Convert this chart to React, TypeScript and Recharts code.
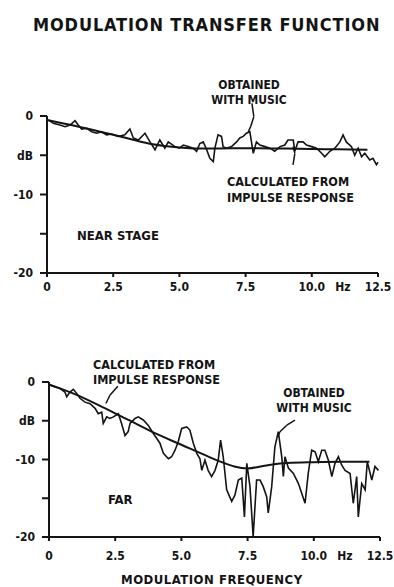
import React from "react";
import { LineChart, Line, XAxis, YAxis, ReferenceLine } from "recharts";

// x ticks (Hz) and y ticks (dB)
const freqTicks = [0, 2.5, 5, 7.5, 10, 12.5];
const dbTicks = [0, -5, -10, -15, -20];

// near stage: calculated from impulse response
const nearCalcHz = [0, 1, 2, 3, 4, 5, 6, 7, 8, 9, 10, 11, 12.1];
const nearCalcDb = [-0.5, -1.2, -2.0, -2.8, -3.6, -4.0, -4.15, -4.1, -4.1, -4.15, -4.2, -4.25, -4.3];

// near stage: obtained with music
const nearMusicHz = [
  0.05, 0.24, 0.49, 0.68, 0.87, 1.06, 1.18, 1.31, 1.5, 1.69, 1.88, 2.06, 2.25, 2.44,
  2.69, 2.94, 3.13, 3.26, 3.45, 3.7, 3.89, 4.08, 4.26, 4.45, 4.58, 4.83, 5.0, 5.15,
  5.33, 5.52, 5.65, 5.77, 5.9, 6.03, 6.15, 6.28, 6.34, 6.46, 6.59, 6.65, 6.78, 6.97,
  7.16, 7.28, 7.41, 7.53, 7.66, 7.79, 7.91, 8.04, 8.23, 8.42, 8.6, 8.8, 8.98, 9.1,
  9.3, 9.36, 9.48, 9.67, 9.8, 9.99, 10.18, 10.37, 10.49, 10.68, 10.87, 11.06, 11.18,
  11.3, 11.5, 11.62, 11.75, 11.88, 12.0, 12.19, 12.31, 12.44, 12.5,
];
const nearMusicDb = [
  -0.5, -0.93, -1.15, -1.36, -1.15, -0.6, -1.15, -1.66, -1.57, -2.0, -2.2, -2.0, -2.4, -2.3,
  -2.6, -2.4, -1.66, -2.8, -3.06, -2.2, -3.3, -4.3, -3.06, -4.1, -3.3, -3.9, -4.1, -3.7,
  -3.9, -4.1, -4.5, -3.5, -3.3, -4.3, -5.4, -5.8, -4.1, -2.4, -2.6, -3.9, -4.1, -3.9,
  -3.3, -2.8, -2.6, -2.2, -2.0, -4.75, -3.3, -3.7, -3.9, -4.1, -4.5, -3.9, -3.7, -3.06,
  -3.06, -4.5, -3.3, -3.3, -3.7, -3.9, -4.1, -4.75, -5.2, -4.5, -4.1, -3.3, -2.4,
  -3.3, -3.9, -5.0, -4.1, -5.2, -4.75, -5.6, -5.4, -6.2, -5.9,
];

// far: calculated from impulse response
const farCalcHz = [0, 1, 2, 3, 4, 5, 6, 6.5, 7, 7.5, 8, 8.5, 9, 10, 11, 12.1];
const farCalcDb = [-0.3, -1.6, -3.2, -4.9, -6.6, -8.1, -9.6, -10.3, -10.9, -11.15, -10.9, -10.6, -10.45, -10.35, -10.3, -10.3];

// far: obtained with music
const farMusicHz = [
  0.04, 0.23, 0.42, 0.6, 0.67, 0.79, 0.92, 1.05, 1.17, 1.36, 1.55, 1.74, 1.86, 1.99,
  2.05, 2.18, 2.3, 2.43, 2.62, 2.74, 2.87, 2.99, 3.06, 3.25, 3.37, 3.56, 3.75, 3.94,
  4.07, 4.19, 4.32, 4.51, 4.63, 4.76, 4.88, 5.01, 5.2, 5.32, 5.45, 5.58, 5.7, 5.77,
  5.89, 6.01, 6.14, 6.27, 6.39, 6.48, 6.58, 6.71, 6.9, 7.02, 7.15, 7.28, 7.38, 7.47,
  7.59, 7.71, 7.84, 7.97, 8.09, 8.22, 8.28, 8.41, 8.53, 8.66, 8.79, 8.85, 8.91, 9.04,
  9.23, 9.42, 9.67, 9.79, 9.92, 10.05, 10.17, 10.3, 10.42, 10.55, 10.68, 10.8, 10.93,
  11.05, 11.18, 11.37, 11.49, 11.62, 11.68, 11.81, 11.94, 12.02, 12.19, 12.31, 12.44,
];
const farMusicDb = [
  -0.42, -0.64, -0.85, -1.29, -1.9, -1.29, -0.94, -1.5, -2.1, -2.6, -2.8, -3.4, -4.1, -3.9,
  -5.35, -4.5, -4.7, -4.5, -4.1, -5.35, -6.9, -6.4, -5.35, -4.7, -4.5, -4.9, -5.6, -6.65,
  -7.3, -7.9, -9.2, -9.9, -9.65, -8.8, -7.7, -6.0, -5.8, -6.2, -7.9, -9.2, -9.9, -11.4,
  -10.1, -11.4, -12.2, -11.4, -10.1, -7.5, -9.65, -13.9, -15.4, -14.6, -12.65, -12.4, -17.4, -10.5,
  -13.5, -19.95, -12.65, -12.65, -13.5, -14.8, -16.9, -13.5, -8.4, -6.4, -9.65, -12.2, -9.65, -11.1,
  -11.8, -13.1, -15.65, -11.8, -8.8, -9.0, -10.3, -8.8, -8.8, -10.1, -12.2, -10.5, -9.65,
  -10.7, -11.4, -11.8, -15.65, -12.2, -17.4, -13.1, -13.9, -10.3, -12.65, -10.9, -11.4,
];

// annotation leader lines, in chart units
const nearMusicLeader = [[7.74, 1.62], [7.81, -0.09], [7.69, -1.36], [7.6, -2.0]];
const nearCalcLeader = [[9.29, -6.24], [9.36, -4.75], [9.29, -3.9]];
const farCalcLeader = [[2.6, -0.55], [2.3, -1.71], [2.15, -2.78]];
const farMusicLeader = [[9.29, -4.93], [8.98, -5.57], [8.72, -6.43], [8.66, -6.86]];

const pts = (hz: number[], db: number[]) => hz.map((x, i) => ({ x, y: db[i] }));

const INK = "#141414";
const FONT = "'DejaVu Sans Condensed', 'DejaVu Sans', sans-serif";

const yLabel = (v: number) => (v === 0 ? "0" : v === -5 ? "dB" : v === -15 ? "" : String(v));

function FreqTick(props: any) {
  const { x, y, payload } = props;
  const v = payload.value as number;
  const label = v === 0 ? "0" : v.toFixed(1);
  return (
    <g>
      <text x={x} y={y} dy="0.71em" textAnchor="middle" fill={INK} fontSize={12} fontFamily={FONT} fontWeight="bold">
        {label}
      </text>
      {v === 10 && (
        <text x={x + 31} y={y} dy="0.71em" textAnchor="middle" fill={INK} fontSize={12} fontFamily={FONT} fontWeight="bold">
          Hz
        </text>
      )}
    </g>
  );
}

function Leader({ path }: { path: number[][] }) {
  return (
    <>
      {path.slice(1).map((p, i) => (
        <ReferenceLine
          key={i}
          segment={[{ x: path[i][0], y: path[i][1] }, { x: p[0], y: p[1] }]}
          stroke={INK}
          strokeWidth={1.5}
          ifOverflow="visible"
        />
      ))}
    </>
  );
}

function Panel({ calc, music, leaders, margin, height, tickGap }: any) {
  return (
    <LineChart width={394} height={height} margin={margin}>
      <XAxis
        type="number"
        dataKey="x"
        domain={[0, 12.5]}
        ticks={freqTicks}
        tick={(p: any) => <FreqTick {...p} />}
        stroke={INK}
        strokeWidth={2}
        tickSize={4}
        tickMargin={tickGap}
        height={28}
        interval={0}
      />
      <YAxis
        type="number"
        domain={[-20, 0]}
        ticks={dbTicks}
        tickFormatter={yLabel}
        tick={{ fill: INK, fontSize: 12, fontFamily: FONT, fontWeight: "bold" }}
        stroke={INK}
        strokeWidth={2}
        tickSize={7}
        tickMargin={7}
        width={40}
        interval={0}
      />
      <Line data={calc} dataKey="y" type="monotone" stroke={INK} strokeWidth={2} dot={false} isAnimationActive={false} />
      <Line data={music} dataKey="y" type="linear" stroke={INK} strokeWidth={1.6} dot={false} isAnimationActive={false} />
      {leaders.map((l: number[][], i: number) => (
        <Leader key={i} path={l} />
      ))}
    </LineChart>
  );
}

const txt = (left: number, top: number, size: number, extra: any = {}) =>
  ({
    position: "absolute",
    left,
    top,
    fontFamily: FONT,
    fontWeight: "bold",
    fontSize: size,
    lineHeight: 1,
    color: INK,
    whiteSpace: "nowrap",
    ...extra,
  }) as React.CSSProperties;

export default function App() {
  return (
    <div style={{ position: "absolute", left: 0, top: 0, width: 394, height: 587, background: "#fff", overflow: "hidden" }}>
      <div style={txt(33, 16, 18, { letterSpacing: 0.85 })}>MODULATION TRANSFER FUNCTION</div>

      <div style={{ position: "absolute", left: 0, top: 60 }}>
        <Panel
          calc={pts(nearCalcHz, nearCalcDb)}
          music={pts(nearMusicHz, nearMusicDb)}
          leaders={[nearMusicLeader, nearCalcLeader]}
          height={240}
          tickGap={5}
          margin={{ top: 56, right: 16, left: 7, bottom: -1 }}
        />
      </div>
      <div style={txt(205, 78, 12, { textAlign: "center", width: 88, lineHeight: "15px" })}>
        OBTAINED
        <br />
        WITH MUSIC
      </div>
      <div style={txt(227, 174, 12.5, { lineHeight: "16px" })}>
        CALCULATED FROM
        <br />
        IMPULSE RESPONSE
      </div>
      <div style={txt(77, 229, 13)}>NEAR STAGE</div>

      <div style={{ position: "absolute", left: 0, top: 330 }}>
        <Panel
          calc={pts(farCalcHz, farCalcDb)}
          music={pts(farMusicHz, farMusicDb)}
          leaders={[farCalcLeader, farMusicLeader]}
          height={240}
          tickGap={10}
          margin={{ top: 52, right: 14, left: 9, bottom: 5 }}
        />
      </div>
      <div style={txt(93, 357, 12.5, { lineHeight: "15px" })}>
        CALCULATED FROM
        <br />
        IMPULSE RESPONSE
      </div>
      <div style={txt(270, 386, 12, { textAlign: "center", width: 88, lineHeight: "15px" })}>
        OBTAINED
        <br />
        WITH MUSIC
      </div>
      <div style={txt(108, 493, 13)}>FAR</div>
      <div style={txt(121, 573, 13, { letterSpacing: 0.5 })}>MODULATION FREQUENCY</div>
    </div>
  );
}
